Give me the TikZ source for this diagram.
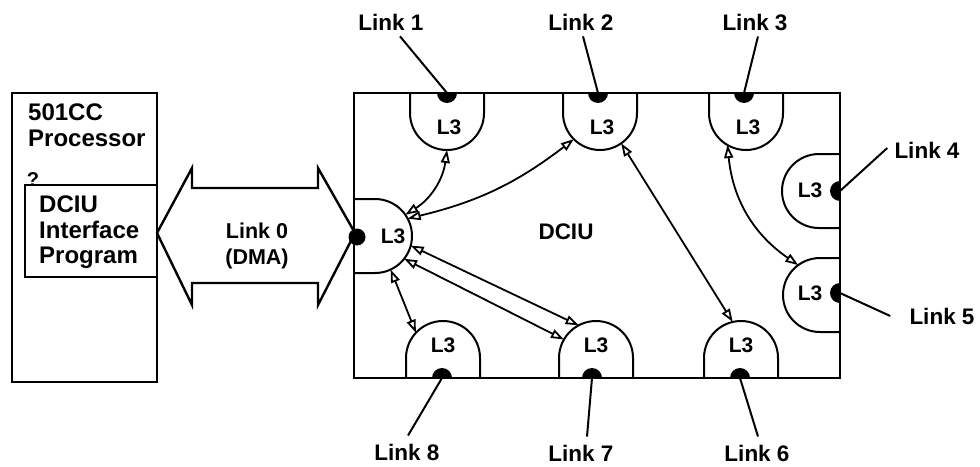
\documentclass[tikz,border=0pt]{standalone}
\usepackage{fontspec}
\setmainfont{Liberation Sans}
\usetikzlibrary{arrows.meta}
\tikzset{
  frame/.style={line width=2.4pt},
  portline/.style={line width=2pt},
  portc/.style={circle,minimum size=74pt,inner sep=0pt,outer sep=0pt},
  dot/.style={circle,fill,inner sep=0pt,minimum size=20pt},
  lbl/.style={inner sep=1pt,font=\fontsize{22.5}{24}\selectfont\bfseries},
  ltext/.style={inner sep=0pt,font=\fontsize{21}{23}\selectfont\bfseries},
  lead/.style={line width=2pt},
  dblarrow/.style={{Triangle[open,length=13pt,width=9pt]}-{Triangle[open,length=13pt,width=9pt]},line width=1.8pt}
}
\begin{document}
\begin{tikzpicture}[x=1pt,y=1pt,font=\bfseries]
\useasboundingbox (0,0) rectangle (980,-466);
% processor
\draw[frame] (12,-93) rectangle (157,-382);
\node[anchor=north west,inner sep=0pt,align=left,font=\fontsize{24}{26}\selectfont\bfseries] (proc) at (28,-104) {501CC\\Processor};
\node[inner sep=0pt,font=\fontsize{20}{22}\selectfont\bfseries] (qm) at (33,-180) {?};
\draw[frame] (25,-185) rectangle (157,-277);
\node[anchor=north west,inner sep=0pt,align=left,font=\fontsize{24}{25.5}\selectfont\bfseries] (prog) at (39,-196) {DCIU\\Interface\\Program};
% link 0
\draw[frame] (157,-233) -- (192,-168) -- (192,-188) -- (318,-188) -- (318,-168) -- (355,-233)
  -- (318,-305) -- (318,-283) -- (192,-283) -- (192,-305) -- cycle;
\node[align=center,font=\fontsize{21.5}{26}\selectfont\bfseries] (dma) at (257,-246) {Link 0\\(DMA)};
% dciu
\draw[frame] (354,-93) rectangle (840,-378);
\node[lbl] (dciu) at (566,-232) {DCIU};
\foreach \n/\x in {1/447,2/600,3/746}{
  \draw[portline] (\x-37,-93) -- (\x-37,-113) arc[start angle=180,end angle=360,radius=37pt] -- (\x+37,-93);
  \node[portc] (p\n) at (\x,-113) {};
  \node[ltext] (t\n) at (\x+2,-127) {L3};
}
\foreach \n/\x in {8/443,7/596,6/741}{
  \draw[portline] (\x-37,-378) -- (\x-37,-358) arc[start angle=180,end angle=0,radius=37pt] -- (\x+37,-378);
  \node[portc] (p\n) at (\x,-358) {};
  \node[ltext] (t\n) at (\x,-345) {L3};
}
\draw[portline] (354,-199) -- (375,-199) arc[start angle=90,end angle=-90,radius=37pt] -- (354,-273);
\node[portc] (p0) at (375,-236) {};
\node[ltext] (t0) at (393,-236) {L3};
\draw[portline] (840,-154) -- (819,-154) arc[start angle=90,end angle=270,radius=37pt] -- (840,-228);
\node[portc] (p4) at (819,-191) {};
\node[ltext] (t4) at (810,-190) {L3};
\draw[portline] (840,-258) -- (820,-258) arc[start angle=90,end angle=270,radius=37pt] -- (840,-332);
\node[portc] (p5) at (820,-295) {};
\node[ltext] (t5) at (810,-293) {L3};
\begin{scope}
\clip (354,-93) rectangle (840,-378);
\foreach \n/\x/\y in {1/447/-93,2/598/-93,3/744/-93,4/840/-191,5/840/-293,6/740/-378,7/592/-378,8/442/-378}
  \node[dot] (d\n) at (\x,\y) {};
\end{scope}
\node[dot,minimum size=17pt] (d0) at (357,-237) {};
% links
\node[lbl] (lk1) at (391,-22) {Link 1};
\node[lbl] (lk2) at (581,-22) {Link 2};
\node[lbl] (lk3) at (755,-22) {Link 3};
\node[lbl] (lk4) at (927,-150) {Link 4};
\node[lbl] (lk5) at (942,-316) {Link 5};
\node[lbl] (lk6) at (757,-453) {Link 6};
\node[lbl] (lk7) at (581,-453) {Link 7};
\node[lbl] (lk8) at (407,-452) {Link 8};
\draw[lead] ([xshift=9pt,yshift=-5pt]lk1.south) -- (d1.center);
\draw[lead] ([xshift=2pt,yshift=-5pt]lk2.south) -- (d2.center);
\draw[lead] ([xshift=3pt,yshift=-5pt]lk3.south) -- (d3.center);
\draw[lead] ([xshift=-6pt,yshift=2pt]lk4.west) -- (d4.center);
\draw[lead] ([xshift=-18pt]lk5.west) -- (d5.center);
\draw[lead] ([xshift=1pt,yshift=7pt]lk6.north) -- (d6.center);
\draw[lead] ([xshift=6pt,yshift=7pt]lk7.north) -- (d7.center);
\draw[lead] ([xshift=1pt,yshift=7pt]lk8.north) -- (d8.center);
% paths
\draw[dblarrow] (p0.35) to[bend right=25] (p1.-90);
\draw[dblarrow] (p0.28) to[bend right=12] (p2.225);
\draw[dblarrow] (p0.-15) -- (p7.118);
\draw[dblarrow] (p0.-38) -- (p7.150);
\draw[dblarrow] (p0.-65) -- (p8.137);
\draw[dblarrow] (p2.-55) -- (p6.103);
\draw[dblarrow] (p3.-120) to[bend right=25] (p5.126);
\end{tikzpicture}
\end{document}
